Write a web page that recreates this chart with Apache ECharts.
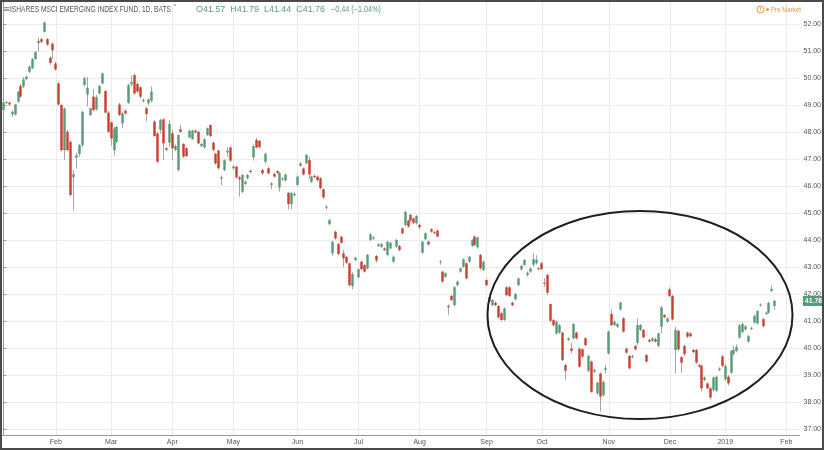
<!DOCTYPE html>
<html><head><meta charset="utf-8">
<script src="https://cdn.jsdelivr.net/npm/echarts@6/dist/echarts.min.js"></script>
<style>html,body{margin:0;padding:0;background:#fff}#c{width:824px;height:450px}</style>
</head><body><div id="c"></div>
<script>
// trading days (categories), incl. a few empty future sessions on the right
const dates = [
'2018-01-05','2018-01-08','2018-01-09','2018-01-10','2018-01-11','2018-01-12','2018-01-16','2018-01-17','2018-01-18','2018-01-19','2018-01-22','2018-01-23','2018-01-24','2018-01-25','2018-01-26','2018-01-29','2018-01-30','2018-01-31',
'2018-02-01','2018-02-02','2018-02-05','2018-02-06','2018-02-07','2018-02-08','2018-02-09','2018-02-12','2018-02-13','2018-02-14','2018-02-15','2018-02-16','2018-02-20','2018-02-21','2018-02-22','2018-02-23','2018-02-26','2018-02-27','2018-02-28',
'2018-03-01','2018-03-02','2018-03-05','2018-03-06','2018-03-07','2018-03-08','2018-03-09','2018-03-12','2018-03-13','2018-03-14','2018-03-15','2018-03-16','2018-03-19','2018-03-20','2018-03-21','2018-03-22','2018-03-23','2018-03-26','2018-03-27','2018-03-28','2018-03-29',
'2018-04-02','2018-04-03','2018-04-04','2018-04-05','2018-04-06','2018-04-09','2018-04-10','2018-04-11','2018-04-12','2018-04-13','2018-04-16','2018-04-17','2018-04-18','2018-04-19','2018-04-20','2018-04-23','2018-04-24','2018-04-25','2018-04-26','2018-04-27','2018-04-30',
'2018-05-01','2018-05-02','2018-05-03','2018-05-04','2018-05-07','2018-05-08','2018-05-09','2018-05-10','2018-05-11','2018-05-14','2018-05-15','2018-05-16','2018-05-17','2018-05-18','2018-05-21','2018-05-22','2018-05-23','2018-05-24','2018-05-25','2018-05-29','2018-05-30','2018-05-31',
'2018-06-01','2018-06-04','2018-06-05','2018-06-06','2018-06-07','2018-06-08','2018-06-11','2018-06-12','2018-06-13','2018-06-14','2018-06-15','2018-06-18','2018-06-19','2018-06-20','2018-06-21','2018-06-22','2018-06-25','2018-06-26','2018-06-27','2018-06-28','2018-06-29',
'2018-07-02','2018-07-03','2018-07-05','2018-07-06','2018-07-09','2018-07-10','2018-07-11','2018-07-12','2018-07-13','2018-07-16','2018-07-17','2018-07-18','2018-07-19','2018-07-20','2018-07-23','2018-07-24','2018-07-25','2018-07-26','2018-07-27','2018-07-30','2018-07-31',
'2018-08-01','2018-08-02','2018-08-03','2018-08-06','2018-08-07','2018-08-08','2018-08-09','2018-08-10','2018-08-13','2018-08-14','2018-08-15','2018-08-16','2018-08-17','2018-08-20','2018-08-21','2018-08-22','2018-08-23','2018-08-24','2018-08-27','2018-08-28','2018-08-29','2018-08-30','2018-08-31',
'2018-09-04','2018-09-05','2018-09-06','2018-09-07','2018-09-10','2018-09-11','2018-09-12','2018-09-13','2018-09-14','2018-09-17','2018-09-18','2018-09-19','2018-09-20','2018-09-21','2018-09-24','2018-09-25','2018-09-26','2018-09-27','2018-09-28',
'2018-10-01','2018-10-02','2018-10-03','2018-10-04','2018-10-05','2018-10-08','2018-10-09','2018-10-10','2018-10-11','2018-10-12','2018-10-15','2018-10-16','2018-10-17','2018-10-18','2018-10-19','2018-10-22','2018-10-23','2018-10-24','2018-10-25','2018-10-26','2018-10-29','2018-10-30','2018-10-31',
'2018-11-01','2018-11-02','2018-11-05','2018-11-06','2018-11-07','2018-11-08','2018-11-09','2018-11-12','2018-11-13','2018-11-14','2018-11-15','2018-11-16','2018-11-19','2018-11-20','2018-11-21','2018-11-23','2018-11-26','2018-11-27','2018-11-28','2018-11-29','2018-11-30',
'2018-12-03','2018-12-04','2018-12-06','2018-12-07','2018-12-10','2018-12-11','2018-12-12','2018-12-13','2018-12-14','2018-12-17','2018-12-18','2018-12-19','2018-12-20','2018-12-21','2018-12-24','2018-12-26','2018-12-27','2018-12-28','2018-12-31',
'2019-01-02','2019-01-03','2019-01-04','2019-01-07','2019-01-08','2019-01-09','2019-01-10','2019-01-11','2019-01-14','2019-01-15','2019-01-16','2019-01-17','2019-01-18','2019-01-22','2019-01-23','2019-01-24','2019-01-25','2019-01-28','2019-01-29','2019-01-30','2019-01-31',
'2019-02-01','2019-02-04','2019-02-05','2019-02-06','2019-02-07'
];

// [open, close, low, high]
const ohlc = [
// Jan 2018
[48.82,49.11,48.78,49.16],[49.10,49.12,49.04,49.16],[49.10,49.03,48.98,49.14],[48.67,48.76,48.57,48.82],[48.66,49.03,48.62,49.06],[49.13,49.50,49.10,49.53],
[49.71,49.32,49.28,49.80],[49.69,49.96,49.64,50.05],[49.97,50.06,49.93,50.10],[50.24,50.43,50.20,50.48],[50.37,50.71,50.34,50.75],[50.71,50.98,50.68,51.01],
[51.30,51.39,50.98,51.50],[51.45,51.35,51.30,51.52],[51.72,52.07,51.70,52.10],[51.45,51.25,51.20,51.50],[50.76,50.57,50.50,50.82],[51.28,51.04,50.72,51.32],
// Feb
[50.55,50.33,50.28,50.62],[49.81,49.03,48.98,49.86],[49.01,47.34,47.30,49.05],[47.34,48.88,46.98,48.92],[48.02,47.34,47.30,48.10],[47.65,45.68,45.62,47.70],
[46.34,46.45,45.10,46.60],[47.06,47.15,46.66,47.25],[47.20,47.53,47.10,47.56],[47.53,48.76,47.45,48.80],[49.75,50.00,49.70,50.06],[49.40,49.65,48.95,50.05],
[48.64,48.89,48.60,48.92],[49.32,48.82,48.78,49.60],[48.85,49.30,48.80,49.38],[49.44,49.72,49.40,49.76],[49.81,50.18,49.78,50.22],[49.53,48.73,48.70,49.56],[48.73,48.02,47.98,48.80],
// Mar
[48.37,47.77,47.50,48.40],[47.34,48.14,47.15,48.20],[47.65,48.20,47.60,48.25],[49.03,48.64,48.60,49.10],[48.33,48.70,48.14,48.76],[48.80,48.70,48.65,48.86],
[49.09,49.75,49.05,49.80],[49.78,49.86,49.70,50.10],[50.12,49.44,49.38,50.18],[49.79,49.51,49.45,49.85],[49.67,49.32,49.25,49.70],[49.15,49.20,49.10,49.25],
[48.89,48.68,48.40,48.95],[49.07,49.22,49.00,49.26],[49.17,49.51,49.10,49.70],[48.40,47.86,47.84,48.46],[47.96,46.91,46.85,48.00],[48.09,48.46,47.95,48.50],
[48.48,47.59,46.97,48.52],[47.41,47.35,47.30,47.45],[47.62,48.31,47.47,48.46],
// Apr
[47.96,47.41,46.97,48.08],[47.35,47.50,47.30,47.55],[46.60,47.90,46.55,47.92],[48.11,48.02,47.98,48.27],[47.57,47.10,47.05,47.60],[47.41,47.12,47.08,47.45],
[47.81,48.06,47.78,48.10],[47.75,48.06,47.72,48.10],[48.06,48.00,47.96,48.10],[48.02,47.59,47.55,48.06],[47.49,47.57,47.45,47.60],[47.44,47.74,47.40,47.78],
[47.90,48.15,47.86,48.18],[48.27,47.86,47.82,48.30],[47.62,47.35,47.30,47.66],[47.20,46.85,46.80,47.24],[47.32,46.67,46.62,47.36],[46.33,46.30,46.05,46.40],
[46.60,46.97,46.56,47.00],[47.25,47.32,47.10,47.45],[47.44,46.95,46.90,47.48],
// May
[46.67,46.73,46.60,46.78],[46.73,46.33,46.28,46.76],[46.33,46.26,45.62,46.38],[45.80,46.42,45.75,46.45],[46.09,46.17,46.04,46.22],[46.30,46.42,46.25,46.46],
[46.58,46.53,46.48,46.62],[47.07,47.49,46.95,47.55],[47.72,47.44,47.40,47.80],[47.68,47.45,47.40,47.72],[46.60,46.48,46.42,46.66],[46.91,47.20,46.86,47.24],
[46.67,46.48,46.44,46.72],[46.05,46.11,45.90,46.15],[46.46,46.36,46.32,46.50],[46.56,46.50,46.45,46.60],[45.96,46.50,45.80,46.54],[46.27,46.29,46.20,46.34],
[46.21,46.44,46.18,46.48],[45.76,45.34,45.15,45.80],[45.34,45.76,45.15,45.80],[45.67,45.72,45.62,45.78],
// Jun
[46.05,46.36,46.00,46.40],[46.76,46.85,46.72,46.90],[46.66,46.44,46.40,46.70],[46.85,47.16,46.82,47.20],[46.97,46.44,46.28,47.10],[46.17,46.36,46.12,46.40],
[46.39,46.34,46.30,46.43],[46.36,46.23,46.18,46.40],[46.30,45.93,45.88,46.34],[45.89,45.59,45.54,45.93],[45.21,45.25,45.13,45.30],[44.60,44.75,44.55,44.80],
[43.52,43.95,43.42,43.98],[44.32,44.07,44.02,44.36],[43.86,43.49,43.45,43.90],[44.13,43.91,43.87,44.17],[43.52,43.33,43.00,43.65],[43.39,43.17,43.12,43.43],
[43.15,42.34,42.28,43.18],[42.31,42.75,42.18,42.82],[43.27,43.35,43.22,43.40],
// Jul
[42.63,42.93,42.58,42.96],[43.21,42.93,42.90,43.25],[43.08,42.84,42.80,43.12],[42.96,43.46,42.92,43.50],[44.01,44.22,43.97,44.26],[44.06,44.11,44.02,44.15],
[43.42,43.25,43.18,43.46],[43.79,43.85,43.75,43.89],[43.76,43.86,43.72,43.90],[43.70,43.64,43.60,43.74],[43.46,43.95,43.40,43.98],[43.70,43.91,43.66,43.95],
[43.21,43.39,43.15,43.43],[43.77,44.01,43.72,44.05],[43.79,43.64,43.60,43.83],[44.44,44.26,44.22,44.48],[44.57,45.06,44.52,45.10],[44.73,44.51,44.47,44.77],
[44.94,44.73,44.68,44.98],[44.81,44.65,44.60,44.85],[44.63,44.90,44.58,44.94],
// Aug
[44.57,44.48,44.41,44.62],[43.54,43.95,43.50,43.98],[44.04,44.26,44.00,44.30],[43.95,43.85,43.80,43.99],[44.41,44.32,44.28,44.45],[44.30,44.27,44.22,44.34],
[44.36,44.14,44.10,44.40],[43.20,43.22,43.10,43.28],[42.84,42.47,42.42,42.88],[42.65,42.78,42.60,42.82],[41.57,41.52,41.23,41.62],[41.94,41.79,41.75,41.98],
[41.60,42.26,41.55,42.30],[42.34,42.47,42.30,42.51],[42.84,42.96,42.80,43.00],[43.02,43.30,42.98,43.33],[43.15,42.59,42.55,43.18],[43.21,43.39,43.16,43.42],
[43.79,44.01,43.75,44.05],[44.14,43.83,43.79,44.18],[43.74,44.10,43.70,44.14],[43.46,42.96,42.92,43.50],[42.90,43.21,42.86,43.25],
// Sep
[42.53,42.34,42.30,42.57],[41.89,41.73,41.69,41.93],[41.60,41.79,41.56,41.83],[41.69,41.60,41.56,41.73],[41.57,41.15,41.10,41.61],[41.30,41.05,41.00,41.34],
[41.05,41.48,41.01,41.52],[42.26,41.97,41.93,42.30],[42.26,41.94,41.90,42.30],[41.69,41.60,41.55,41.73],[41.81,42.01,41.77,42.05],[42.34,42.59,42.30,42.62],
[42.92,43.05,42.88,43.10],[43.09,43.27,43.05,43.30],[42.72,42.80,42.65,42.84],[42.84,42.96,42.80,43.00],[43.10,43.30,43.02,43.52],[43.15,43.28,43.10,43.45],
[42.96,42.94,42.90,43.00],
// Oct
[43.15,42.93,42.90,43.20],[42.43,42.40,42.28,42.59],[42.72,42.06,41.97,42.75],[41.64,41.02,40.98,41.66],[41.05,40.86,40.80,41.09],[40.55,40.99,40.50,41.03],
[40.58,40.86,40.54,40.90],[40.58,39.57,39.52,40.62],[39.38,39.17,38.83,39.42],[40.31,40.37,40.26,40.41],[39.99,39.91,39.81,40.20],[40.37,40.90,40.33,40.94],
[40.58,40.37,40.33,40.62],[39.99,39.32,39.28,40.03],[39.96,39.69,39.65,40.00],[40.37,40.12,40.08,40.41],[39.17,39.72,39.12,39.76],[39.51,38.39,38.35,39.55],
[39.14,39.20,39.08,39.25],[38.33,38.73,38.28,38.77],[39.07,38.21,37.65,39.11],[38.26,38.76,38.22,38.80],[39.20,39.26,39.07,39.38],
// Nov
[39.81,40.62,39.77,40.66],[41.27,40.86,40.82,41.44],[40.86,40.99,40.82,41.03],[40.80,40.90,40.76,40.94],[41.44,41.69,41.40,41.73],[41.11,40.62,40.58,41.15],
[39.99,39.84,39.80,40.03],[39.72,39.26,39.22,39.76],[39.67,39.72,39.62,39.77],[40.09,39.96,39.92,40.13],[40.20,40.86,40.12,41.11],[40.68,40.86,40.64,40.90],
[40.68,40.41,40.37,40.72],[39.75,39.51,39.47,39.79],[40.31,40.25,40.21,40.35],[40.28,40.37,40.24,40.41],[40.33,40.25,40.21,40.40],[40.09,40.55,40.05,40.59],
[40.80,41.52,40.55,41.57],[41.23,41.15,41.11,41.27],[40.99,41.11,40.95,41.15],
// Dec
[42.18,41.94,41.90,42.25],[41.94,41.07,41.03,41.98],[39.94,40.68,39.07,40.80],[40.65,39.96,39.90,40.70],[39.67,39.47,39.10,39.71],[40.09,39.79,39.70,40.13],
[40.58,40.43,40.39,40.62],[40.55,40.45,40.40,40.60],[39.94,39.86,39.82,39.98],[39.94,39.47,39.43,39.98],[39.38,39.32,39.28,39.42],[39.35,38.52,38.40,39.40],
[38.83,38.92,38.78,38.96],[38.70,38.52,38.48,38.74],[38.52,38.18,38.10,38.56],[38.46,38.92,38.40,38.96],[38.43,38.95,38.38,38.99],[39.20,39.25,39.15,39.30],
[39.70,39.35,39.30,39.75],
// Jan 2019
[38.85,39.35,38.80,39.40],[38.95,38.70,38.62,39.00],[39.10,39.90,39.05,39.95],[39.80,39.95,39.72,40.10],[39.90,40.05,39.85,40.15],[40.40,40.85,40.35,40.90],
[40.60,40.90,40.55,40.98],[40.70,40.82,40.65,40.86],[40.25,40.45,40.20,40.50],[40.72,40.76,40.68,40.80],[40.95,41.20,40.92,41.25],[40.92,41.38,40.88,41.42],
[41.58,41.62,41.55,41.66],[41.08,40.82,40.78,41.12],[41.27,41.32,41.23,41.36],[41.32,41.68,41.28,41.72],[42.13,42.20,42.08,42.32],[41.57,41.76,41.44,41.79]
];

const tickDates  = ['2018-02-01','2018-03-01','2018-04-02','2018-05-01','2018-06-01','2018-07-02','2018-08-01','2018-09-04','2018-10-01','2018-11-01','2018-12-03','2019-01-02','2019-02-01'];
const tickLabels = ['Feb','Mar','Apr','May','Jun','Jul','Aug','Sep','Oct','Nov','Dec','2019','Feb'];
const priceTicks = [37,38,39,40,41,42,43,44,45,46,47,48,49,50,51,52];
const lastQuote = { open: 41.57, high: 41.79, low: 41.44, close: 41.76, change: -0.44, pct: -1.04 };
const titleText = 'ISHARES MSCI EMERGING INDEX FUND, 1D, BATS';
// hand-drawn annotation ellipse, in data units (trading-day index / price)
const ellipseBox = { x0: 166.3, x1: 271.1, top: 45.09, bottom: 37.38 };

const UP = '#589c77', DOWN = '#c8412e', WICK = '#a5a5a5', TXT = '#555555';

const chart = echarts.init(document.getElementById('c'), null, { renderer: 'canvas' });
const tickIdx = tickDates.map(d => dates.indexOf(d));

function renderItem(params, api) {
  const i = api.value(0), o = api.value(1), c = api.value(2), l = api.value(3), h = api.value(4);
  const pH = api.coord([i, h]), pL = api.coord([i, l]);
  const pO = api.coord([i, o]), pC = api.coord([i, c]);
  const band = api.size([1, 0])[0];
  const w = Math.max(1, band * 0.84);
  const top = Math.min(pO[1], pC[1]);
  const hh = Math.max(1, Math.abs(pO[1] - pC[1]));
  const xc = Math.round(pH[0] - 0.5) + 0.5;
  return {
    type: 'group',
    children: [
      { type: 'line', shape: { x1: xc, y1: pH[1], x2: xc, y2: pL[1] }, style: { stroke: WICK, lineWidth: 1 } },
      { type: 'rect', shape: { x: xc - w / 2, y: top, width: w, height: hh }, style: { fill: c >= o ? UP : DOWN } }
    ]
  };
}

chart.setOption({
  animation: false,
  backgroundColor: '#ffffff',
  grid: { left: 2, right: 22, top: 0, bottom: 15 },
  xAxis: {
    type: 'value', min: -0.5, max: dates.length - 0.5,
    axisLine: { show: true, lineStyle: { color: '#9a9a9a', width: 1 } },
    axisTick: { show: false, customValues: tickIdx },
    axisLabel: { customValues: tickIdx, formatter: v => tickLabels[tickIdx.indexOf(v)] || '', fontSize: 7, color: TXT, margin: 4, fontFamily: 'Liberation Sans' },
    splitLine: { show: true, lineStyle: { color: '#ebebeb', width: 1 } }
  },
  yAxis: {
    type: 'value', position: 'right', min: 36.79, max: 52.9, scale: true,
    axisLine: { show: true, lineStyle: { color: '#9a9a9a', width: 1 } },
    axisTick: { show: true, length: 3, customValues: priceTicks, lineStyle: { color: '#9a9a9a' } },
    axisLabel: { customValues: priceTicks, formatter: v => v.toFixed(2), fontSize: 7, color: TXT, margin: 4, fontFamily: 'Liberation Sans' },
    splitLine: { show: true, lineStyle: { color: '#ebebeb', width: 1 } }
  },
  series: [{
    type: 'custom', renderItem: renderItem, clip: true,
    encode: { x: 0, y: [1, 2, 3, 4] },
    data: ohlc.map((d, i) => [i, d[0], d[1], d[2], d[3]])
  }]
});

// ---- overlays positioned from the chart's own scales ----
const ctx = document.createElement('canvas').getContext('2d');
function fit(str, font, width) { ctx.font = font; return width / ctx.measureText(str).width; }

const fin = { xAxisIndex: 0, yAxisIndex: 0 };
const e1 = chart.convertToPixel(fin, [ellipseBox.x0, ellipseBox.top]);
const e2 = chart.convertToPixel(fin, [ellipseBox.x1, ellipseBox.bottom]);
const tagY = chart.convertToPixel({ yAxisIndex: 0 }, lastQuote.close);
const gridRight = 824 - 22;

const fTitle = '8.5px "Liberation Sans"';
const ohlcStr = 'O' + lastQuote.open.toFixed(2) + '  H' + lastQuote.high.toFixed(2) + '  L' + lastQuote.low.toFixed(2) + '  C' + lastQuote.close.toFixed(2);
const chgStr = '\u2212' + Math.abs(lastQuote.change).toFixed(2) + ' (\u2212' + Math.abs(lastQuote.pct).toFixed(2) + '%)';
const HDR_GREEN = '#5a9e79', ORANGE = '#f5922f';

chart.setOption({
  graphic: [
    { type: 'rect', silent: true, shape: { x: 1, y: 1, width: 822, height: 448 }, style: { fill: 'none', stroke: '#4a4a4a', lineWidth: 2 }, z: 100 },
    { type: 'text', x: 3, y: 10, style: { text: '\u2261', font: '9px "DejaVu Sans"', fill: '#777', verticalAlign: 'middle' } },
    { type: 'text', x: 10, y: 10, scaleX: fit(titleText, fTitle, 161), style: { text: titleText, font: fTitle, fill: TXT, verticalAlign: 'middle' } },
    { type: 'text', x: 173, y: 9, style: { text: '\u02C5', font: '8px "DejaVu Sans"', fill: '#777', verticalAlign: 'middle' } },
    { type: 'text', x: 196, y: 10, scaleX: fit(ohlcStr, fTitle, 129), style: { text: ohlcStr, font: fTitle, fill: HDR_GREEN, verticalAlign: 'middle' } },
    { type: 'text', x: 331, y: 10, scaleX: fit(chgStr, fTitle, 50), style: { text: chgStr, font: fTitle, fill: HDR_GREEN, verticalAlign: 'middle' } },
    { type: 'circle', shape: { cx: 760.5, cy: 9.5, r: 3.5 }, style: { fill: 'none', stroke: ORANGE, lineWidth: 1 } },
    { type: 'text', x: 760.5, y: 9.8, style: { text: '!', font: 'bold 5px "Liberation Sans"', fill: ORANGE, align: 'center', verticalAlign: 'middle' } },
    { type: 'circle', shape: { cx: 767.5, cy: 9.5, r: 1.4 }, style: { fill: ORANGE } },
    { type: 'text', x: 771, y: 10, scaleX: fit('Pre Market', '7px "Liberation Sans"', 30), style: { text: 'Pre Market', font: '7px "Liberation Sans"', fill: ORANGE, verticalAlign: 'middle' } },
    { type: 'ellipse', shape: { cx: (e1[0] + e2[0]) / 2, cy: (e1[1] + e2[1]) / 2, rx: (e2[0] - e1[0]) / 2, ry: (e2[1] - e1[1]) / 2 }, style: { fill: 'none', stroke: '#1f1f1f', lineWidth: 2 }, z: 50 },
    { type: 'rect', shape: { x: gridRight + 1, y: Math.round(tagY) - 5, width: 21, height: 10 }, style: { fill: UP }, z: 60 },
    { type: 'text', x: gridRight + 11.5, y: Math.round(tagY), style: { text: lastQuote.close.toFixed(2), font: 'bold 7px "Liberation Sans"', fill: '#ffffff', align: 'center', verticalAlign: 'middle' }, z: 61 }
  ]
});
</script>
</body></html>
